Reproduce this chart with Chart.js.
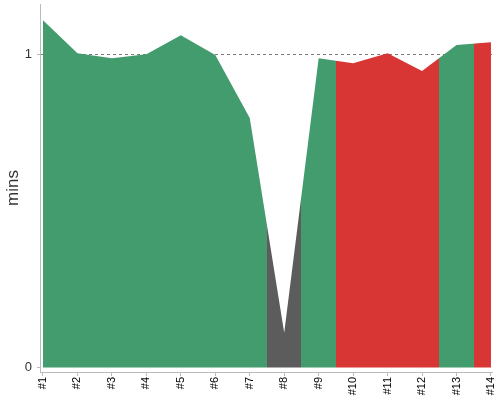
<!DOCTYPE html>
<html>
<head>
<meta charset="utf-8">
<script src="https://cdn.jsdelivr.net/npm/chart.js@4/dist/chart.umd.min.js"></script>
<style>
  html, body { margin: 0; padding: 0; background: #fff; }
  #wrap { width: 500px; height: 400px; }
</style>
</head>
<body>
<div id="wrap"><canvas id="c" width="500" height="400"></canvas></div>
<script>
// ---- data ----
const categories = ['#1','#2','#3','#4','#5','#6','#7','#8','#9','#10','#11','#12','#13','#14'];
const durations  = [1.108, 1.003, 0.987, 1.0, 1.06, 0.997, 0.796, 0.111, 0.987, 0.971, 1.003, 0.946, 1.029, 1.038];
const statuses   = ['ok','ok','ok','ok','ok','ok','ok','skip','ok','fail','fail','fail','ok','fail'];
const yTickValues = [0, 1];
const yTitle = 'mins';

const statusColors = { ok: '#439c6d', fail: '#d83535', skip: '#5c5c5c' };

function fillGradient(context) {
  const chart = context.chart;
  const area = chart.chartArea;
  const xs = chart.scales.x;
  if (!area || !xs) return statusColors.ok;
  const g = chart.ctx.createLinearGradient(area.left, 0, area.right, 0);
  const w = area.right - area.left;
  const pos = p => Math.min(1, Math.max(0, (p - area.left) / w));
  g.addColorStop(0, statusColors[statuses[0]]);
  for (let i = 0; i < statuses.length - 1; i++) {
    const p = pos(xs.getPixelForValue(i + 1.5));
    g.addColorStop(p, statusColors[statuses[i]]);
    g.addColorStop(p, statusColors[statuses[i + 1]]);
  }
  g.addColorStop(1, statusColors[statuses[statuses.length - 1]]);
  return g;
}

const points = durations.map((v, i) => ({ x: i + 1, y: v }));

new Chart(document.getElementById('c'), {
  type: 'line',
  data: {
    datasets: [{
      data: points,
      fill: 'origin',
      backgroundColor: fillGradient,
      borderWidth: 0,
      borderColor: 'rgba(0,0,0,0)',
      pointRadius: 0,
      tension: 0
    }]
  },
  options: {
    responsive: false,
    animation: false,
    events: [],
    layout: { padding: { top: 4, right: 8, left: 0, bottom: 0 } },
    plugins: { legend: { display: false }, tooltip: { enabled: false } },
    scales: {
      x: {
        type: 'linear',
        min: 0.913,
        max: 14.03,
        afterFit: s => { s.height = 28; s.paddingLeft = 0; s.paddingRight = 0; },
        afterBuildTicks: s => { s.ticks = categories.map((c, i) => ({ value: i + 1 })); },
        border: { display: true, color: '#bbbbbb', width: 1 },
        grid: { drawOnChartArea: false, drawTicks: true, tickLength: 4, tickColor: '#bbbbbb' },
        ticks: {
          autoSkip: false,
          maxRotation: 90,
          minRotation: 90,
          padding: 1,
          color: '#000',
          font: { family: 'Liberation Sans, Arial, sans-serif', size: 11 },
          callback: v => categories[v - 1]
        }
      },
      y: {
        min: -0.014,
        max: 1.16,
        afterFit: s => { s.width = 40; s.paddingTop = 0; s.paddingBottom = 0; },
        afterBuildTicks: s => { s.ticks = yTickValues.map(v => ({ value: v })); },
        border: { display: true, color: '#bbbbbb', width: 1, dash: [3, 3] },
        grid: {
          drawOnChartArea: true,
          drawTicks: true,
          tickLength: 3,
          color: ctx => (ctx.tick && ctx.tick.value === 1) ? 'rgba(90,90,90,0.8)' : 'rgba(0,0,0,0)',
          tickColor: '#bbbbbb',
          lineWidth: 1
        },
        ticks: {
          padding: 5,
          color: '#333',
          font: { family: 'Liberation Sans, Arial, sans-serif', size: 13 },
          callback: v => String(v)
        },
        title: {
          display: true,
          text: yTitle,
          color: '#333',
          padding: { top: 3, bottom: 0 },
          font: { family: 'Liberation Sans, Arial, sans-serif', size: 17 }
        }
      }
    }
  }
});
</script>
</body>
</html>
